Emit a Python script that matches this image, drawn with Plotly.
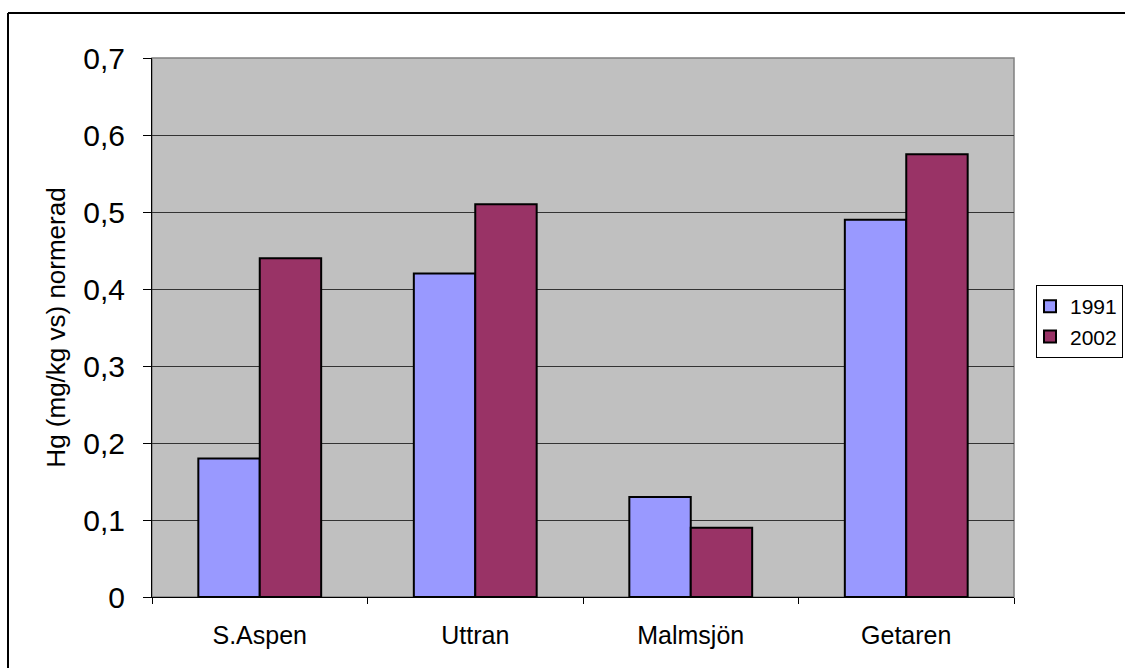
import plotly.graph_objects as go

# Lakes and normalised Hg values per sampling year
lakes = ["S.Aspen", "Uttran", "Malmsjön", "Getaren"]
hg_1991 = [0.18, 0.42, 0.13, 0.49]
hg_2002 = [0.44, 0.51, 0.09, 0.575]
y_ticks = [0, 0.1, 0.2, 0.3, 0.4, 0.5, 0.6, 0.7]
y_labels = ["0", "0,1", "0,2", "0,3", "0,4", "0,5", "0,6", "0,7"]

W, H = 1125, 668
L, R, T, B = 152, 1014, 58, 597

fig = go.Figure()
fig.add_trace(go.Bar(
    x=lakes, y=hg_1991, name="1991",
    marker=dict(color="#9999FF", line=dict(color="black", width=2)),
))
fig.add_trace(go.Bar(
    x=lakes, y=hg_2002, name="2002",
    marker=dict(color="#993366", line=dict(color="black", width=2)),
))

# outer frame of the chart object (top and left edges visible)
px = lambda x: (x - L) / (R - L)
py = lambda y: (B - y) / (B - T)
fig.add_shape(type="line", xref="paper", yref="paper",
              x0=px(8), x1=px(1130), y0=py(13), y1=py(13),
              line=dict(color="black", width=2))
fig.add_shape(type="line", xref="paper", yref="paper",
              x0=px(8), x1=px(8), y0=py(13), y1=py(670),
              line=dict(color="black", width=2))
# plot area border
fig.add_shape(type="rect", xref="paper", yref="paper",
              x0=0, x1=1, y0=0, y1=1,
              line=dict(color="#808080", width=1.5), layer="below")

fig.update_layout(
    width=W, height=H,
    margin=dict(l=L, r=W - R, t=T, b=H - B, pad=0),
    paper_bgcolor="white",
    plot_bgcolor="#C0C0C0",
    barmode="group",
    bargap=0.43,
    bargroupgap=0,
    font=dict(family="Liberation Sans, Arial, sans-serif", color="black"),
    showlegend=True,
    legend=dict(
        xref="container", yref="container",
        x=1036 / W, y=1 - 285 / H, xanchor="left", yanchor="top",
        bgcolor="white", bordercolor="black", borderwidth=1,
        font=dict(size=21), tracegroupgap=12,
        itemwidth=30, indentation=-7,
    ),
    xaxis=dict(
        type="category",
        tickson="boundaries",
        ticks="outside", ticklen=6, tickcolor="black",
        showline=True, linecolor="black", linewidth=1,
        showgrid=False,
        tickfont=dict(size=25),
        ticklabelstandoff=16,
    ),
    yaxis=dict(
        range=[0, 0.7],
        tickvals=y_ticks, ticktext=y_labels,
        ticks="outside", ticklen=8, tickcolor="black",
        showline=True, linecolor="black", linewidth=1,
        showgrid=True, gridcolor="#333333", gridwidth=1,
        zeroline=False,
        tickfont=dict(size=30),
        ticklabelstandoff=12,
        title=dict(text="Hg (mg/kg vs) normerad", font=dict(size=26), standoff=10),
    ),
)

fig.write_html("out.html")
